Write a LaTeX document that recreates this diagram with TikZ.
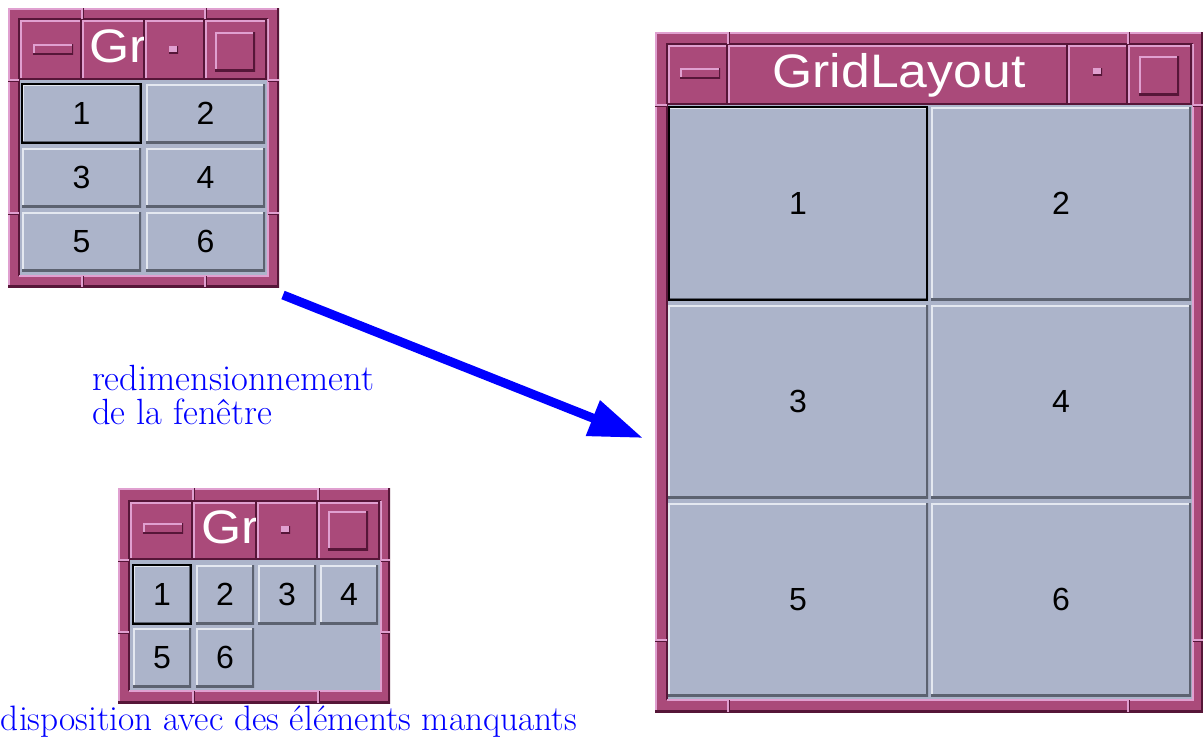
\documentclass[tikz,border=0pt]{standalone}
\usepackage{fontspec}
\newfontfamily\guifont{Liberation Sans}
\usetikzlibrary{arrows.meta}
\definecolor{frameFill}{RGB}{170,74,122}
\definecolor{frameLight}{RGB}{224,160,208}
\definecolor{frameDark}{RGB}{86,22,56}
\definecolor{btnFill}{RGB}{172,180,202}
\definecolor{btnLight}{RGB}{228,232,240}
\definecolor{btnDark}{RGB}{92,98,112}
\definecolor{labelBlue}{RGB}{0,0,255}
\tikzset{
  bevel/.style 2 args={path picture={
    \draw[#1,line width=4pt] (path picture bounding box.south west) -- (path picture bounding box.north west) -- (path picture bounding box.north east);
    \draw[#2,line width=4pt] (path picture bounding box.south west) -- (path picture bounding box.south east) -- (path picture bounding box.north east);}},
  thin bevel/.style 2 args={path picture={
    \draw[#1,line width=3pt] (path picture bounding box.south west) -- (path picture bounding box.north west) -- (path picture bounding box.north east);
    \draw[#2,line width=3pt] (path picture bounding box.south west) -- (path picture bounding box.south east) -- (path picture bounding box.north east);}}
}
\begin{document}
\begin{tikzpicture}[x=1pt,y=-1pt]
    \tikzstyle{every node} = [inner sep=0pt, outer sep=0pt]
    \tikzstyle{frame} = [anchor=north west, fill=frameFill, bevel={frameLight}{frameDark}]
    \tikzstyle{cell} = [anchor=north west, fill=frameFill, bevel={frameLight}{frameDark}]
    \tikzstyle{client} = [anchor=north west, fill=btnFill]
    \tikzstyle{btn} = [anchor=north west, fill=btnFill, bevel={btnLight}{btnDark}, font=\guifont\fontsize{32}{32}\selectfont]
    \tikzstyle{focused} = [draw=black, line width=2.5pt]
    \tikzstyle{minbar} = [anchor=north west, fill=frameFill, thin bevel={frameLight}{frameDark}, minimum width=40pt, minimum height=10pt]
    \tikzstyle{maxbox} = [anchor=north west, fill=frameFill, bevel={frameLight}{frameDark}, minimum width=40pt, minimum height=39pt]
    \tikzstyle{dotbox} = [anchor=north west, fill=frameLight, thin bevel={frameLight}{frameDark}, minimum width=9pt, minimum height=7pt]
    \tikzstyle{titletext} = [text=white, font=\guifont\fontsize{47}{47}\selectfont, xscale=1.1]
    \tikzstyle{blueText} = [text=labelBlue, align=left]
    \tikzstyle{resizeArrow} = [labelBlue, line width=9pt, -{Triangle[length=54pt,width=36pt]}]
    \useasboundingbox (0,0) rectangle (1203,740);
    % window with six buttons, small
    \node[frame, minimum width=271pt, minimum height=279pt] (winA) at (8,8) {};
    \draw[frameDark, line width=2pt] (19,276) -- (19,19) -- (268,19);
    \draw[frameLight, line width=2pt] (19,276) -- (268,276) -- (268,19);
    \foreach \i/\x/\w in {1/20/62, 2/82/63, 3/145/60, 4/205/62}
      \node[cell, minimum width=\w pt, minimum height=60pt] (aT\i) at (\x,20) {};
    \node[minbar] (aMin) at (33,44) {};
    \begin{scope}
      \clip (aT2.north west) rectangle ([xshift=-2pt]aT2.south east);
      \node[titletext, anchor=west] (aTitle) at (89,50) {GridLayout};
    \end{scope}
    \node[dotbox] (aDot) at (169,46) {};
    \node[maxbox] (aMax) at (215,32) {};
    \node[client, minimum width=247pt, minimum height=195pt] (aClient) at (20,80) {};
    \foreach \n/\x/\y in {1/22/84, 2/146/84, 3/22/148, 4/146/148, 5/22/212, 6/146/212}
      \node[btn, minimum width=119pt, minimum height=59pt] (a\n) at (\x,\y) {\n};
    \node[focused, anchor=north west, minimum width=119pt, minimum height=59pt] at (22,84) {};
    \foreach \x in {82,205} {
      \draw[frameLight, line width=1.5pt] (\x,8) -- (\x,19) (\x,276) -- (\x,287);
      \draw[frameDark, line width=1pt] (\x+1.5,8) -- (\x+1.5,19) (\x+1.5,276) -- (\x+1.5,287);}
    \foreach \y in {80,213} {
      \draw[frameLight, line width=1.5pt] (8,\y) -- (19,\y) (268,\y) -- (279,\y);
      \draw[frameDark, line width=1pt] (8,\y+1.5) -- (19,\y+1.5) (268,\y+1.5) -- (279,\y+1.5);}

    % same window, made larger
    \node[frame, minimum width=548pt, minimum height=680pt] (winC) at (655,32) {};
    \draw[frameDark, line width=2pt] (667,700) -- (667,44) -- (1193,44);
    \draw[frameLight, line width=2pt] (667,700) -- (1193,700) -- (1193,44);
    \foreach \i/\x/\w in {1/668/60, 2/728/340, 3/1068/60, 4/1128/64}
      \node[cell, minimum width=\w pt, minimum height=60pt] (cT\i) at (\x,45) {};
    \node[minbar] (cMin) at (680,68) {};
    \node[titletext] (cTitle) at (899,75) {GridLayout};
    \node[dotbox] (cDot) at (1093,68) {};
    \node[maxbox] (cMax) at (1139,56) {};
    \node[client, minimum width=524pt, minimum height=594pt] (cClient) at (668,105) {};
    \foreach \n/\x/\y in {1/668/107, 2/931/107, 3/668/305, 4/931/305, 5/668/503, 6/931/503}
      \node[btn, minimum width=260pt, minimum height=193pt] (c\n) at (\x,\y) {\n};
    \node[focused, anchor=north west, minimum width=258pt, minimum height=193pt] at (669,107) {};
    \foreach \x in {728,1128} {
      \draw[frameLight, line width=1.5pt] (\x,32) -- (\x,44) (\x,700) -- (\x,712);
      \draw[frameDark, line width=1pt] (\x+1.5,32) -- (\x+1.5,44) (\x+1.5,700) -- (\x+1.5,712);}
    \foreach \y in {105,640} {
      \draw[frameLight, line width=1.5pt] (655,\y) -- (667,\y) (1193,\y) -- (1203,\y);
      \draw[frameDark, line width=1pt] (655,\y+1.5) -- (667,\y+1.5) (1193,\y+1.5) -- (1203,\y+1.5);}

    % window with missing elements
    \node[frame, minimum width=272pt, minimum height=215pt] (winB) at (118,488) {};
    \draw[frameDark, line width=2pt] (129,691) -- (129,501) -- (381,501);
    \draw[frameLight, line width=2pt] (129,691) -- (381,691) -- (381,501);
    \foreach \i/\x/\w in {1/130/63, 2/193/64, 3/257/61, 4/318/62}
      \node[cell, minimum width=\w pt, minimum height=58pt] (bT\i) at (\x,502) {};
    \node[minbar] (bMin) at (143,523) {};
    \begin{scope}
      \clip (bT2.north west) rectangle ([xshift=-2pt]bT2.south east);
      \node[titletext, anchor=west] (bTitle) at (201,531) {GridLayout};
    \end{scope}
    \node[dotbox] (bDot) at (281,526) {};
    \node[maxbox] (bMax) at (328,511) {};
    \node[client, minimum width=250pt, minimum height=130pt] (bClient) at (130,560) {};
    \foreach \n/\x/\y in {1/133/565, 2/196/565, 3/258/565, 4/320/565, 5/133/628, 6/196/628}
      \node[btn, minimum width=58pt, minimum height=59pt] (b\n) at (\x,\y) {\n};
    \node[focused, anchor=north west, minimum width=58pt, minimum height=59pt] at (133,565) {};
    \foreach \x in {193,318} {
      \draw[frameLight, line width=1.5pt] (\x,488) -- (\x,500) (\x,691) -- (\x,703);
      \draw[frameDark, line width=1pt] (\x+1.5,488) -- (\x+1.5,500) (\x+1.5,691) -- (\x+1.5,703);}
    \foreach \y in {560,632} {
      \draw[frameLight, line width=1.5pt] (118,\y) -- (129,\y) (381,\y) -- (390,\y);
      \draw[frameDark, line width=1pt] (118,\y+1.5) -- (129,\y+1.5) (381,\y+1.5) -- (390,\y+1.5);}

    % labels and arrow
    \node[blueText, anchor=north west, font=\fontsize{36.5}{34}\selectfont] (resizeLabel) at (92,365) {redimensionnement\\de la fenêtre};
    \node[blueText, anchor=base west, font=\fontsize{35.3}{31}\selectfont] (missingLabel) at (1,730) {disposition avec des éléments manquants};
    \coordinate (arrowTail) at (283,295);
    \coordinate (arrowTip) at (643,438);
    \draw[resizeArrow] (arrowTail) -- (arrowTip);
\end{tikzpicture}
\end{document}
